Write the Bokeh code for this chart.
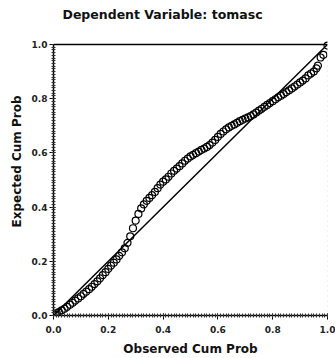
from bokeh.plotting import figure
from bokeh.models import Range1d, FixedTicker, Span, Label, BoxAnnotation
from bokeh.embed import file_html
from bokeh.resources import INLINE

title_text = "Dependent Variable: tomasc"
x_label = "Observed Cum Prob"
y_label = "Expected Cum Prob"
tick_values = [0.0, 0.2, 0.4, 0.6, 0.8, 1.0]

observed = [0.005, 0.012, 0.02, 0.03, 0.04, 0.05, 0.06, 0.07, 0.08, 0.09,
            0.10, 0.11, 0.12, 0.13, 0.14, 0.15, 0.16, 0.17, 0.18, 0.19,
            0.20, 0.21, 0.22, 0.23, 0.24, 0.25, 0.26, 0.27, 0.28, 0.29,
            0.30, 0.31, 0.32, 0.33, 0.34, 0.35, 0.36, 0.37, 0.38, 0.39,
            0.40, 0.41, 0.42, 0.43, 0.44, 0.45, 0.46, 0.47, 0.48, 0.49,
            0.50, 0.51, 0.52, 0.53, 0.54, 0.55, 0.56, 0.57, 0.58, 0.59,
            0.60, 0.61, 0.62, 0.63, 0.64, 0.65, 0.66, 0.67, 0.68, 0.69,
            0.70, 0.71, 0.72, 0.73, 0.74, 0.75, 0.76, 0.77, 0.78, 0.79,
            0.80, 0.81, 0.82, 0.83, 0.84, 0.85, 0.86, 0.87, 0.88, 0.89,
            0.90, 0.91, 0.92, 0.93, 0.94, 0.95, 0.96, 0.965, 0.975, 0.985, 1.0]
expected = [0.004, 0.009, 0.013, 0.019, 0.025, 0.032, 0.040, 0.047, 0.055, 0.063,
            0.071, 0.080, 0.088, 0.097, 0.106, 0.116, 0.126, 0.137, 0.149, 0.160,
            0.172, 0.184, 0.195, 0.207, 0.220, 0.233, 0.248, 0.268, 0.292, 0.322,
            0.350, 0.375, 0.395, 0.410, 0.423, 0.434, 0.444, 0.456, 0.470, 0.483,
            0.494, 0.502, 0.512, 0.524, 0.534, 0.542, 0.551, 0.561, 0.571, 0.579,
            0.587, 0.593, 0.599, 0.605, 0.611, 0.616, 0.622, 0.629, 0.638, 0.648,
            0.659, 0.670, 0.679, 0.687, 0.694, 0.700, 0.705, 0.711, 0.717, 0.722,
            0.727, 0.731, 0.736, 0.742, 0.749, 0.756, 0.763, 0.770, 0.777, 0.784,
            0.791, 0.798, 0.805, 0.811, 0.817, 0.824, 0.831, 0.838, 0.845, 0.852,
            0.860, 0.867, 0.875, 0.886, 0.893, 0.900, 0.912, 0.922, 0.952, 0.962, 0.996]
diag_x = [0.0, 1.0]
diag_y = [0.0, 1.0]

# frame runs from y=7 to y=315 px; the axis box (0..1) occupies 44..315
p = figure(width=335, height=358, output_backend="svg", toolbar_location=None,
           x_range=Range1d(0, 1), y_range=Range1d(0, 308 / 271),
           min_border_left=53, min_border_right=8, min_border_top=7, min_border_bottom=43)
p.background_fill_color = "white"
p.border_fill_color = "white"
p.outline_line_color = None
p.grid.visible = False

p.add_layout(Label(x=9, y=301, x_units="screen", y_units="screen", text=title_text,
                   text_baseline="middle", text_align="left",
                   text_font="DejaVu Sans", text_font_size="12.5px",
                   text_font_style="bold", text_color="#111111"))

for ax in (p.xaxis[0], p.yaxis[0]):
    ax.ticker = FixedTicker(ticks=tick_values,
                            minor_ticks=[i / 100 for i in range(101)])
    ax.bounds = (0, 1)
    ax.major_label_text_font = "DejaVu Sans"
    ax.major_label_text_font_size = "9px"
    ax.major_label_text_font_style = "bold"
    ax.major_label_text_color = "#222222"
    ax.axis_label_text_font = "DejaVu Sans"
    ax.axis_label_text_font_size = "12px"
    ax.axis_label_text_font_style = "bold"
    ax.axis_label_text_color = "#111111"
    ax.axis_line_color = "black"
    ax.axis_line_width = 1.5
    ax.major_tick_line_color = "black"
    ax.major_tick_out = 4
    ax.major_tick_in = 2
    ax.minor_tick_line_color = "#333333"
    ax.minor_tick_out = 2
    ax.minor_tick_in = 2

p.xaxis.axis_label = x_label
p.yaxis.axis_label = y_label
p.xaxis.major_label_overrides = {v: f"{v:.1f}" for v in tick_values}
p.yaxis.major_label_overrides = {v: f"{v:.1f}" for v in tick_values}
p.xaxis.major_label_standoff = 6
p.xaxis.axis_label_standoff = 6
p.yaxis.major_label_standoff = 2
p.yaxis.axis_label_standoff = 5

# plot box: dotted right side, solid top side
p.add_layout(BoxAnnotation(left=0, right=1, bottom=0, top=1, fill_alpha=0,
                           line_color="#555555", line_width=1, line_dash="1 4"))
p.add_layout(Span(location=1.0, dimension="width", line_color="black", line_width=1.5))

p.line(diag_x, diag_y, line_color="black", line_width=1.5)
p.scatter(observed, expected, marker="circle", size=7, fill_alpha=0,
          line_color="black", line_width=1.2)

open("out.html", "w").write(file_html(p, INLINE))
